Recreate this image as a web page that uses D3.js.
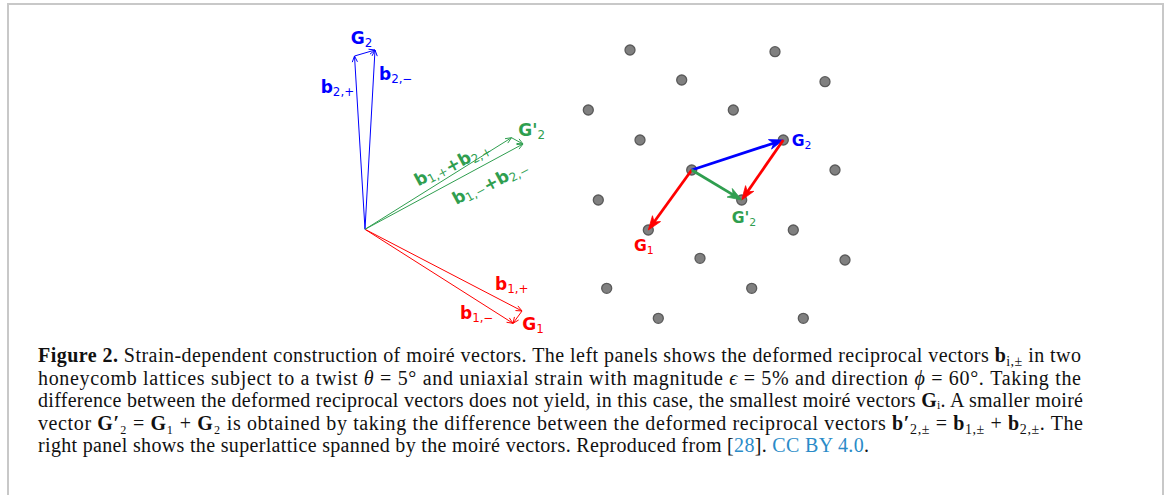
<!DOCTYPE html>
<html>
<head>
<meta charset="utf-8">
<script src="https://cdn.jsdelivr.net/npm/d3@7"></script>
<style>
  html, body { margin: 0; padding: 0; background: #fff; }
  svg { display: block; }
</style>
</head>
<body>
<div id="chart"></div>
<script>
// left panel: deformed reciprocal vectors (tip coords, common origin, y up)
const vecNames = ['b1+', 'b1-', 'b2+', 'b2-']
const vecX = [157, 148, -10.5, 10]
const vecY = [-81.7, -94, 173.3, 179.3]

// green vectors b1,± + b2,±
const sumNames = ['s+', 's-']
const sumX = [146.5, 158]
const sumY = [91.6, 85.3]

// right panel: moire superlattice points (origin dot at 0,0, y up)
const latX = [-61.7, 83.3, -10, 133.3, -103.4, 41.6, -51.7, 91.6, 0, 143.3,
              -93.4, 50, -43.4, 101.6, 8.3, 153.3, -85, 60, -33.4, 111.6]
const latY = [120, 118.3, 90, 88.3, 60, 60, 30, 30, 0, 0,
              -30, -30, -60, -60, -88.3, -90, -118.3, -118.3, -148.3, -148.3]

// moire vectors: lattice point index from -> to
const moireFrom = [8, 8, 7, 8]
const moireTo = [7, 12, 11, 11]
const moireColor = ['#0000ff', '#ff0000', '#ff0000', '#2f9e4f']

const W = 1167, H = 495
const BLUE = '#0000ff', RED = '#ff0000', GREEN = '#2f9e4f'

const svg = d3.select('#chart').append('svg')
  .attr('width', W).attr('height', H)
  .style('background', '#fff')

// frame (top, left, right)
svg.append('path')
  .attr('d', `M8,${H} L8,4 L1163,4 L1163,${H}`)
  .attr('fill', 'none').attr('stroke', '#c8c8c8').attr('stroke-width', 2)

const xL = d3.scaleLinear().domain([-20, 180]).range([345, 545])
const yL = d3.scaleLinear().domain([-100, 190]).range([329.3, 39.3])
const xR = d3.scaleLinear().domain([-110, 160]).range([581.7, 851.7])
const yR = d3.scaleLinear().domain([-160, 130]).range([330, 40])

function headPath(x1, y1, x2, y2, len, half, notch) {
  const a = Math.atan2(y2 - y1, x2 - x1)
  const c = Math.cos(a), s = Math.sin(a)
  const bx = x2 - len * c, by = y2 - len * s
  const p1 = [bx - half * s, by + half * c]
  const p2 = [bx + half * s, by - half * c]
  if (notch == null) return `M${p1} L${x2},${y2} L${p2}`
  const n = [x2 - (len - notch) * c, y2 - (len - notch) * s]
  return `M${x2},${y2} L${p1} L${n} L${p2} Z`
}

function thinArrow(g, x1, y1, x2, y2, color) {
  g.append('line').attr('x1', x1).attr('y1', y1).attr('x2', x2).attr('y2', y2)
    .attr('stroke', color).attr('stroke-width', 1)
  g.append('path').attr('d', headPath(x1, y1, x2, y2, 6, 2.6))
    .attr('fill', 'none').attr('stroke', color).attr('stroke-width', 1)
}

function label(g, x, y, main, color, size, opts = {}) {
  const t = g.append('text').attr('x', x).attr('y', y)
    .attr('fill', color).attr('font-family', 'DejaVu Sans')
    .attr('font-size', size)
  if (opts.rotate) t.attr('transform', `rotate(${opts.rotate},${x},${y})`)
  if (opts.anchor) t.attr('text-anchor', opts.anchor)
  main.forEach(m => {
    t.append('tspan').attr('font-weight', 'bold').text(m[0])
    if (m[1]) {
      t.append('tspan').attr('font-size', size * 0.7).attr('dy', size * 0.18).text(m[1])
      t.append('tspan').attr('dy', -size * 0.18).text('')
    }
  })
  return t
}

// ----- left panel -----
const left = svg.append('g')
const ox = xL(0), oy = yL(0)
const tip = i => [xL(vecX[i]), yL(vecY[i])]
const stip = i => [xL(sumX[i]), yL(sumY[i])]

vecNames.forEach((n, i) => {
  const [x, y] = tip(i)
  thinArrow(left, ox, oy, x, y, i < 2 ? RED : BLUE)
})
sumNames.forEach((n, i) => {
  const [x, y] = stip(i)
  thinArrow(left, ox, oy, x, y, GREEN)
})
// small difference arrows between tips
thinArrow(left, ...tip(2), ...tip(3), BLUE)
thinArrow(left, ...tip(0), ...tip(1), RED)
thinArrow(left, ...stip(0), ...stip(1), GREEN)

const fsL = 17
label(left, tip(3)[0] - 24.3, tip(3)[1] - 5.7, [['G', '2']], BLUE, fsL)
label(left, tip(2)[0] - 33.8, tip(2)[1] + 36.7, [['b', '2,+']], BLUE, fsL)
label(left, tip(3)[0] + 4, tip(3)[1] + 30, [['b', '2,\u2212']], BLUE, fsL)
label(left, stip(1)[0] - 4.7, stip(1)[1] - 8, [["G'", '2']], GREEN, fsL)
label(left, tip(0)[0] - 27, tip(0)[1] - 21, [['b', '1,+']], RED, fsL)
label(left, tip(1)[0] - 53, tip(1)[1] - 4, [['b', '1,\u2212']], RED, fsL)
label(left, tip(1)[0] + 9.3, tip(1)[1] + 6.7, [['G', '1']], RED, fsL)
label(left, 454, 167.5, [['b', '1,+'], ['+b', '2,+']], GREEN, fsL, { rotate: -28, anchor: 'middle' })
label(left, 492, 186, [['b', '1,\u2212'], ['+b', '2,\u2212']], GREEN, fsL, { rotate: -28, anchor: 'middle' })

// ----- right panel -----
const right = svg.append('g')
right.selectAll('circle').data(latX).enter().append('circle')
  .attr('cx', (d, i) => xR(latX[i]))
  .attr('cy', (d, i) => yR(latY[i]))
  .attr('r', 5)
  .attr('fill', '#808080').attr('stroke', '#5a5a5a').attr('stroke-width', 1.3)

moireFrom.forEach((f, i) => {
  const x1 = xR(latX[f]), y1 = yR(latY[f])
  const x2 = xR(latX[moireTo[i]]), y2 = yR(latY[moireTo[i]])
  const a = Math.atan2(y2 - y1, x2 - x1)
  right.append('line').attr('x1', x1).attr('y1', y1)
    .attr('x2', x2 - 8 * Math.cos(a)).attr('y2', y2 - 8 * Math.sin(a))
    .attr('stroke', moireColor[i]).attr('stroke-width', 2.8)
  right.append('path').attr('d', headPath(x1, y1, x2, y2, 14, 5, 4))
    .attr('fill', moireColor[i]).attr('stroke', moireColor[i]).attr('stroke-width', 0.8)
})

const fsR = 15.6
label(right, xR(latX[7]) + 8.4, yR(latY[7]) + 5.7, [['G', '2']], BLUE, fsR)
label(right, xR(latX[11]) - 10, yR(latY[11]) + 22.7, [["G'", '2']], GREEN, fsR)
label(right, xR(latX[12]) - 14.3, yR(latY[12]) + 20.7, [['G', '1']], RED, fsR)

// ----- caption -----
const capLines = [
  [['b', 'Figure 2.'], ['', ' Strain-dependent construction of moiré vectors. The left panels shows the deformed reciprocal vectors '],
   ['b', 'b'], ['sub', 'i,\u00b1'], ['', ' in two']],
  [['', 'honeycomb lattices subject to a twist '], ['i', 'θ'], ['', ' = 5° and uniaxial strain with magnitude '], ['i', 'ϵ'],
   ['', ' = 5% and direction '], ['i', 'ϕ'], ['', ' = 60°. Taking the']],
  [['', 'difference between the deformed reciprocal vectors does not yield, in this case, the smallest moiré vectors '],
   ['b', 'G'], ['', '\u1d62. A smaller moiré']],
  [['', 'vector '], ['b', 'G\u2032'], ['', '\u2082 = '], ['b', 'G'], ['', '\u2081 + '], ['b', 'G'], ['', '\u2082'],
   ['', ' is obtained by taking the difference between the deformed reciprocal vectors '], ['b', 'b\u2032'], ['sub', '2,\u00b1'],
   ['', ' = '], ['b', 'b'], ['sub', '1,\u00b1'], ['', ' + '], ['b', 'b'], ['sub', '2,\u00b1'], ['', '. The']],
  [['', 'right panel shows the superlattice spanned by the moiré vectors. Reproduced from ['], ['link', '28'], ['', ']. '],
   ['link', 'CC BY 4.0'], ['', '.']]
]
const capRight = [1081, 1081, 1083, 1083, 869]
const capBase = [362, 384.5, 407, 429.5, 452]
const capFs = 20
const cap = svg.append('g')
capLines.forEach((parts, li) => {
  const t = cap.append('text').attr('x', 38).attr('y', capBase[li])
    .attr('font-family', 'Liberation Serif').attr('font-size', capFs).attr('fill', '#111')
  parts.forEach(p => {
    const s = t.append('tspan')
    if (p[0] === 'b') s.attr('font-weight', 'bold')
    if (p[0] === 'i') s.attr('font-style', 'italic')
    if (p[0] === 'link') s.attr('fill', '#2a8bc8')
    if (p[0] === 'sub') s.attr('font-size', capFs * 0.7).attr('baseline-shift', -4)
    s.text(p[1])
  })
  // justify: only stretch, never squeeze glyphs together
  const target = capRight[li] - 38
  const natural = t.node().getComputedTextLength()
  if (natural > target) t.attr('font-size', capFs * target / natural)
  t.attr('textLength', target).attr('lengthAdjust', 'spacing')
})
</script>
</body>
</html>
